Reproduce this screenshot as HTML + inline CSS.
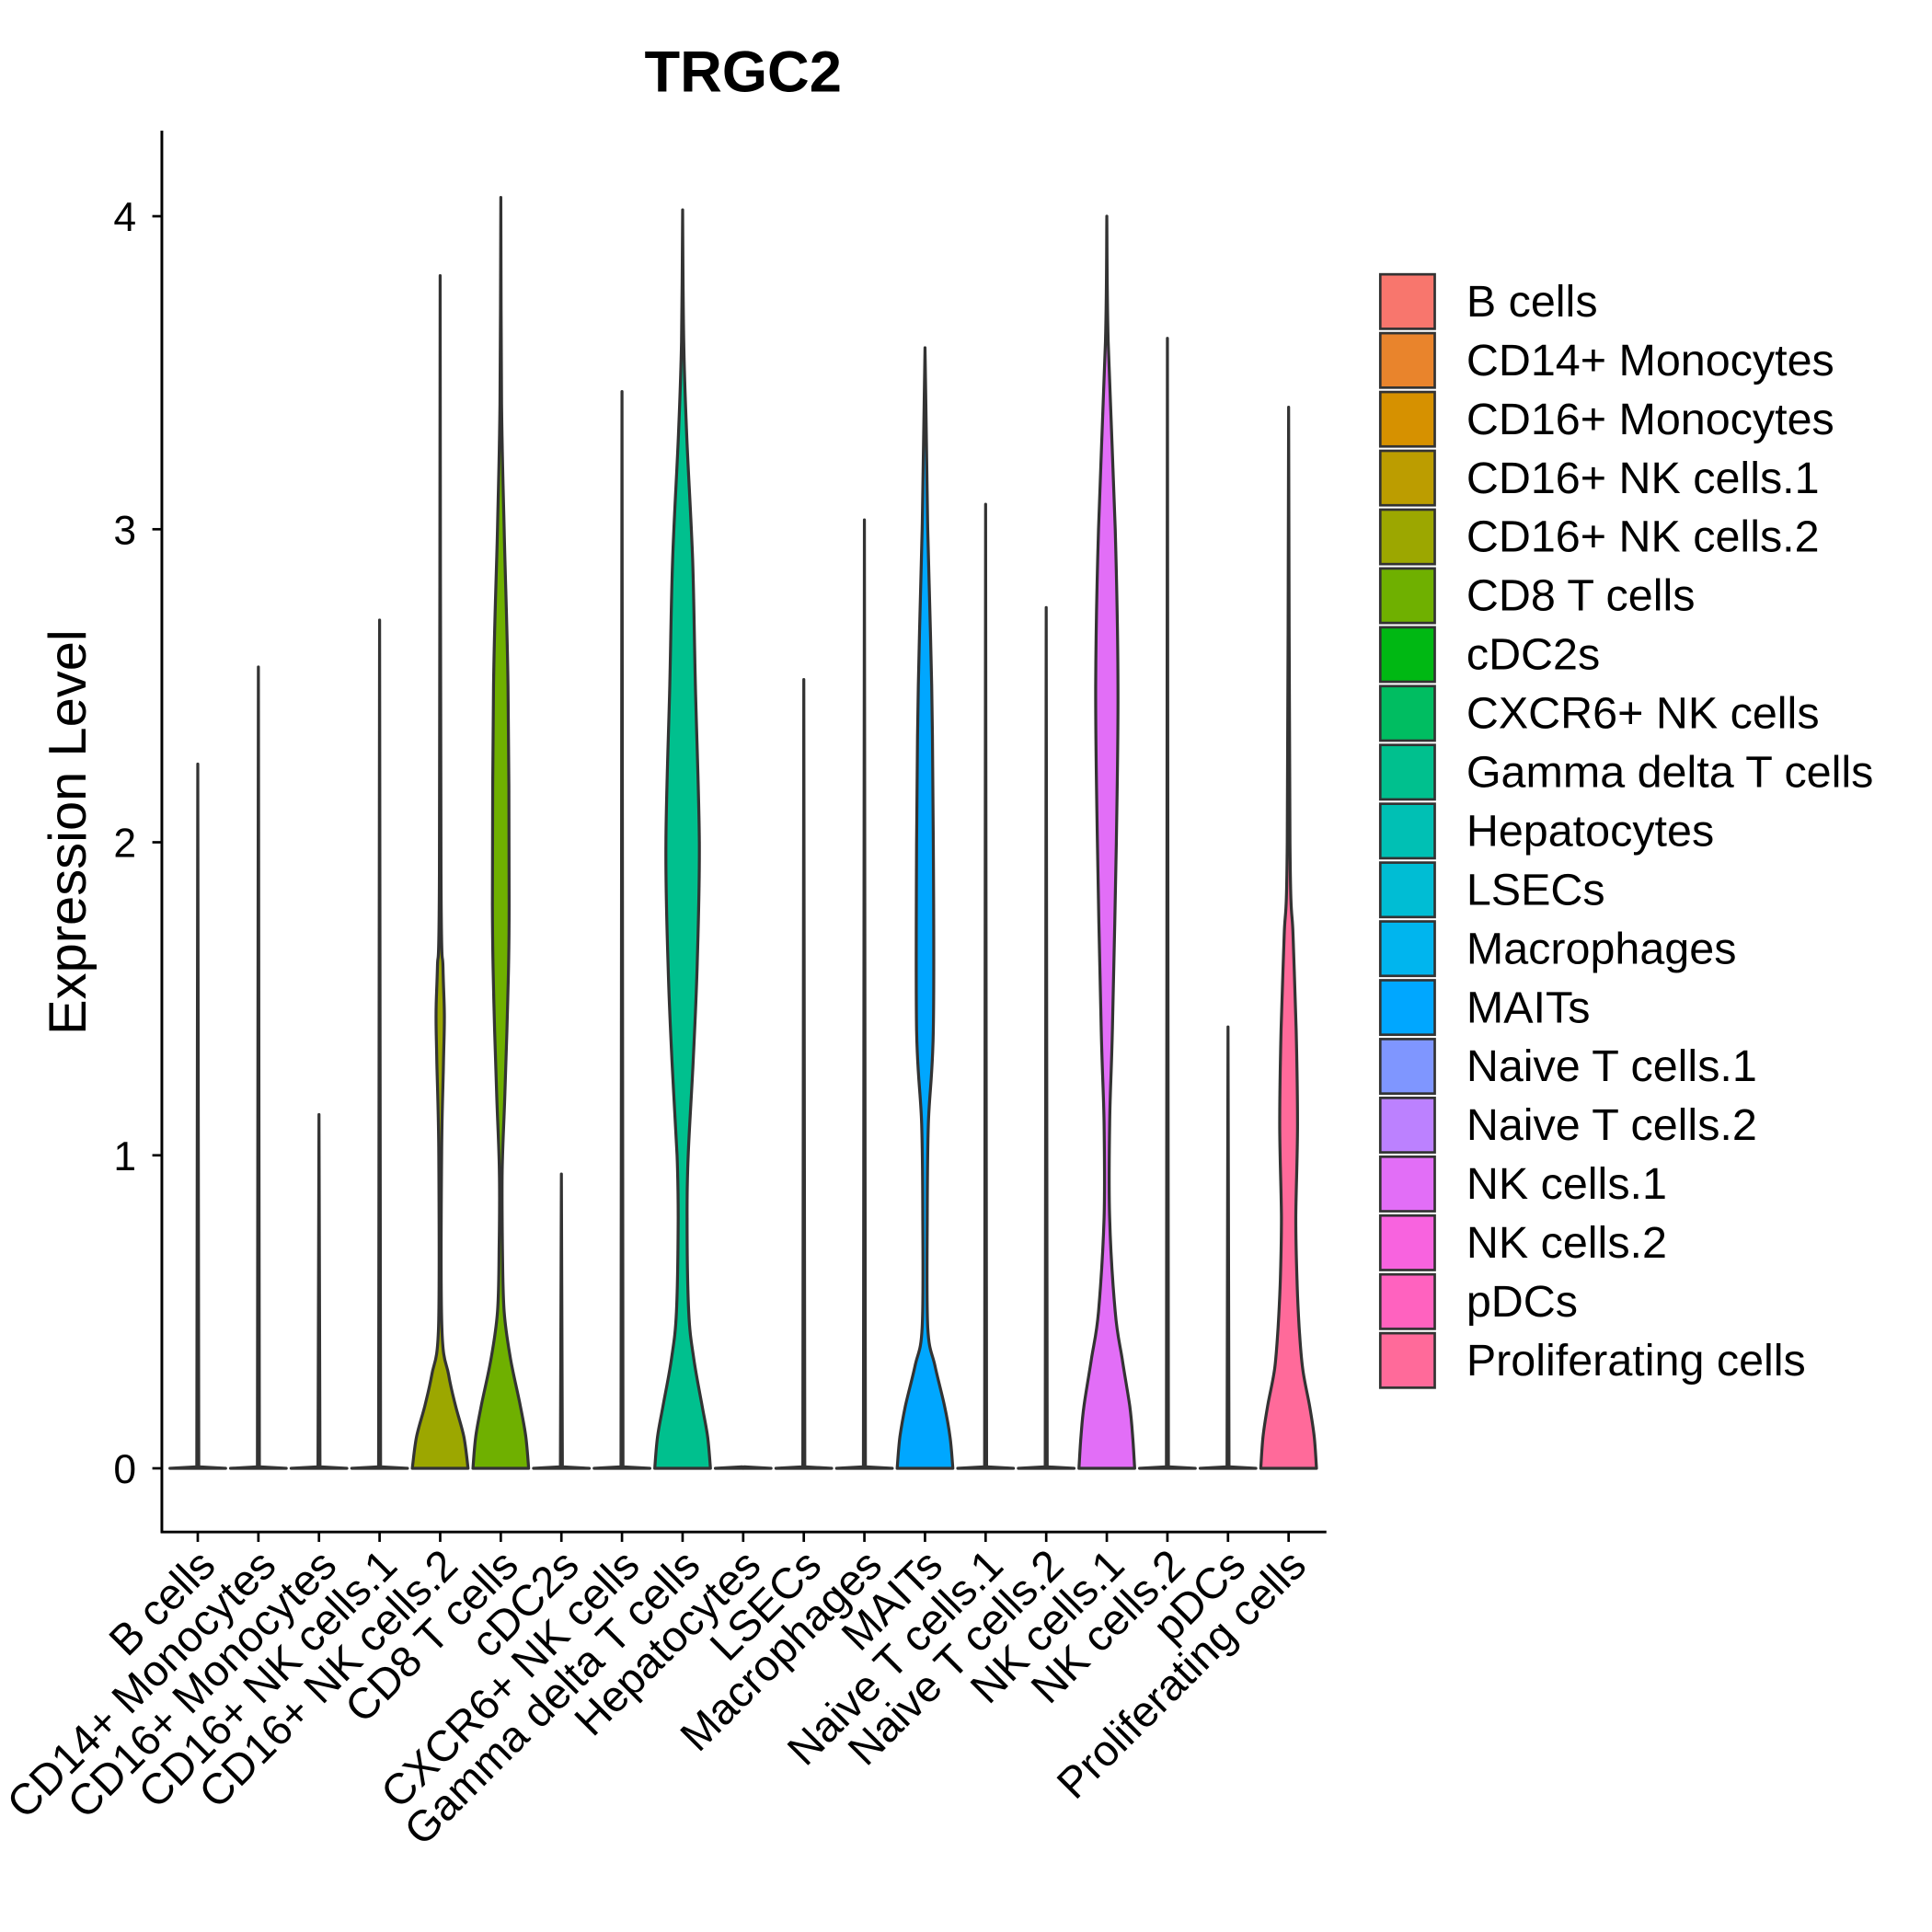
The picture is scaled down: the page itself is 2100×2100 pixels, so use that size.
<!DOCTYPE html>
<html><head><meta charset="utf-8"><style>
html,body{margin:0;padding:0;background:#fff}
svg{display:block;font-family:"Liberation Sans",Arial,sans-serif}
</style></head><body>
<svg id="chart" width="2100" height="2100" viewBox="0 0 1560 1560" xmlns="http://www.w3.org/2000/svg">
<text x="600" y="74" text-anchor="middle" font-size="47" font-weight="bold">TRGC2</text>
<text transform="translate(69,672) rotate(-90)" text-anchor="middle" font-size="43">Expression Level</text>
<g id="plot"></g>
<g id="legend"></g>
</svg>
<script>
const categories = ["B cells","CD14+ Monocytes","CD16+ Monocytes","CD16+ NK cells.1","CD16+ NK cells.2","CD8 T cells","cDC2s","CXCR6+ NK cells","Gamma delta T cells","Hepatocytes","LSECs","Macrophages","MAITs","Naive T cells.1","Naive T cells.2","NK cells.1","NK cells.2","pDCs","Proliferating cells"];
const maxValues = [2.25,2.56,1.13,2.71,3.81,4.06,0.94,3.44,4.02,0,2.52,3.03,3.58,3.08,2.75,4.0,3.61,1.41,3.39];
const colors = ["#F8766D","#E9842C","#D69100","#BC9D00","#9CA700","#6FB000","#00B813","#00BD61","#00C08E","#00C0B4","#00BDD4","#00B5EE","#00A7FF","#7F96FF","#BC81FF","#E26EF7","#F863DF","#FF62BF","#FF6A9A"];
// density profiles: [level, relative half-width]
const profiles = {
 4: [[0,1],[0.1,0.85],[0.2,0.55],[0.3,0.3],[0.45,0.06],[1.0,0.05],[1.3,0.12],[1.45,0.15],[1.6,0.1],[1.9,0.03]],
 5: [[0,1],[0.1,0.9],[0.2,0.7],[0.35,0.35],[0.5,0.12],[0.7,0.06],[0.95,0.05],[1.2,0.15],[1.5,0.25],[1.8,0.3],[2.5,0.26],[3.0,0.12],[3.4,0.03]],
 8: [[0,1],[0.1,0.9],[0.2,0.7],[0.35,0.4],[0.5,0.22],[0.8,0.16],[1.0,0.2],[1.3,0.38],[1.6,0.52],[2.0,0.6],[2.5,0.46],[2.9,0.36],[3.3,0.15],[3.6,0.04]],
 12:[[0,1],[0.1,0.9],[0.2,0.7],[0.33,0.35],[0.45,0.1],[0.8,0.08],[1.1,0.12],[1.4,0.3],[2.0,0.3],[2.5,0.24],[3.0,0.1],[3.4,0.03]],
 15:[[0,1],[0.1,0.93],[0.2,0.82],[0.35,0.55],[0.5,0.3],[0.8,0.1],[1.1,0.1],[1.4,0.2],[2.0,0.34],[2.5,0.4],[3.0,0.3],[3.6,0.05]],
 18:[[0,1],[0.1,0.92],[0.2,0.75],[0.32,0.5],[0.45,0.38],[0.6,0.3],[0.8,0.26],[1.1,0.32],[1.4,0.27],[1.7,0.16],[2.0,0.05]]
};
const yTicks = [0,1,2,3,4];

const NS="http://www.w3.org/2000/svg";
const X0=159.7, DX=(1040.5-159.7)/18, HW=22.5;
const AXB=1237;
const xScale=i=>X0+i*DX;
const yScale=v=>1185.6-v*252.75;
function mk(tag,attrs,parent){const e=document.createElementNS(NS,tag);for(const k in attrs)e.setAttribute(k,attrs[k]);parent.appendChild(e);return e;}
function spline(p){
  let d="";
  for(let i=0;i<p.length-1;i++){
    const p0=p[Math.max(0,i-1)],p1=p[i],p2=p[i+1],p3=p[Math.min(p.length-1,i+2)];
    const c1=[p1[0]+(p2[0]-p0[0])/6,p1[1]+(p2[1]-p0[1])/6];
    const c2=[p2[0]-(p3[0]-p1[0])/6,p2[1]-(p3[1]-p1[1])/6];
    d+=` C${c1[0].toFixed(1)},${c1[1].toFixed(1)} ${c2[0].toFixed(1)},${c2[1].toFixed(1)} ${p2[0].toFixed(1)},${p2[1].toFixed(1)}`;
  }
  return d;
}
const plot=document.getElementById('plot');
const legend=document.getElementById('legend');

categories.forEach((c,i)=>{
  const cx=xScale(i);
  const y0=yScale(0);
  let d;
  if(profiles[i]){
    let pts=profiles[i].slice();
    pts.push([maxValues[i],0]);
    const right=pts.map(p=>[cx+p[1]*HW,yScale(p[0])]);
    const left=pts.slice().reverse().map(p=>[cx-p[1]*HW,yScale(p[0])]);
    d=`M${cx-HW},${y0} L${right[0][0]},${right[0][1]}`+spline(right)+spline(left)+" Z";
  } else {
    const top=yScale(maxValues[i]);
    d=`M${cx-HW},${y0} L${cx+HW},${y0} L${cx+0.8},${y0-1.2} L${cx},${top} L${cx-0.8},${y0-1.2} Z`;
  }
  const v=mk('path',{d:d,fill:colors[i],stroke:'#333','stroke-width':2.4,'stroke-linejoin':'round'},plot);
  
  
  const t=mk('line',{x1:cx,x2:cx,y1:AXB,y2:AXB+8,stroke:'#000','stroke-width':2},plot);
  
  
  const lb=mk('text',{transform:`translate(${cx+16},${AXB+29}) rotate(-45)`,'text-anchor':'end','font-size':35,fill:'#000'},plot);
  lb.textContent=c;
  
  
  const ly=221.5+i*47.5;
  const r=mk('rect',{x:1114.5,y:ly,width:44,height:44,fill:colors[i],stroke:'#333','stroke-width':2},legend);
  
  
  const lt=mk('text',{x:1184,y:ly+34,'font-size':36,fill:'#000'},legend);
  lt.textContent=c;
  
  
});
yTicks.forEach(v=>{
  const y=yScale(v);
  const t=mk('line',{x1:123,x2:131,y1:y,y2:y,stroke:'#000','stroke-width':2},plot);
  
  
  const l=mk('text',{x:110,y:y+12,'text-anchor':'end','font-size':33,fill:'#000'},plot);
  l.textContent=v;
  
  
});
const ya=mk('line',{x1:130.7,x2:130.7,y1:105.5,y2:AXB+1,stroke:'#000','stroke-width':2.2},plot);


const xa=mk('line',{x1:130,x2:1071,y1:AXB,y2:AXB,stroke:'#000','stroke-width':2.2},plot);


</script>
</body></html>
